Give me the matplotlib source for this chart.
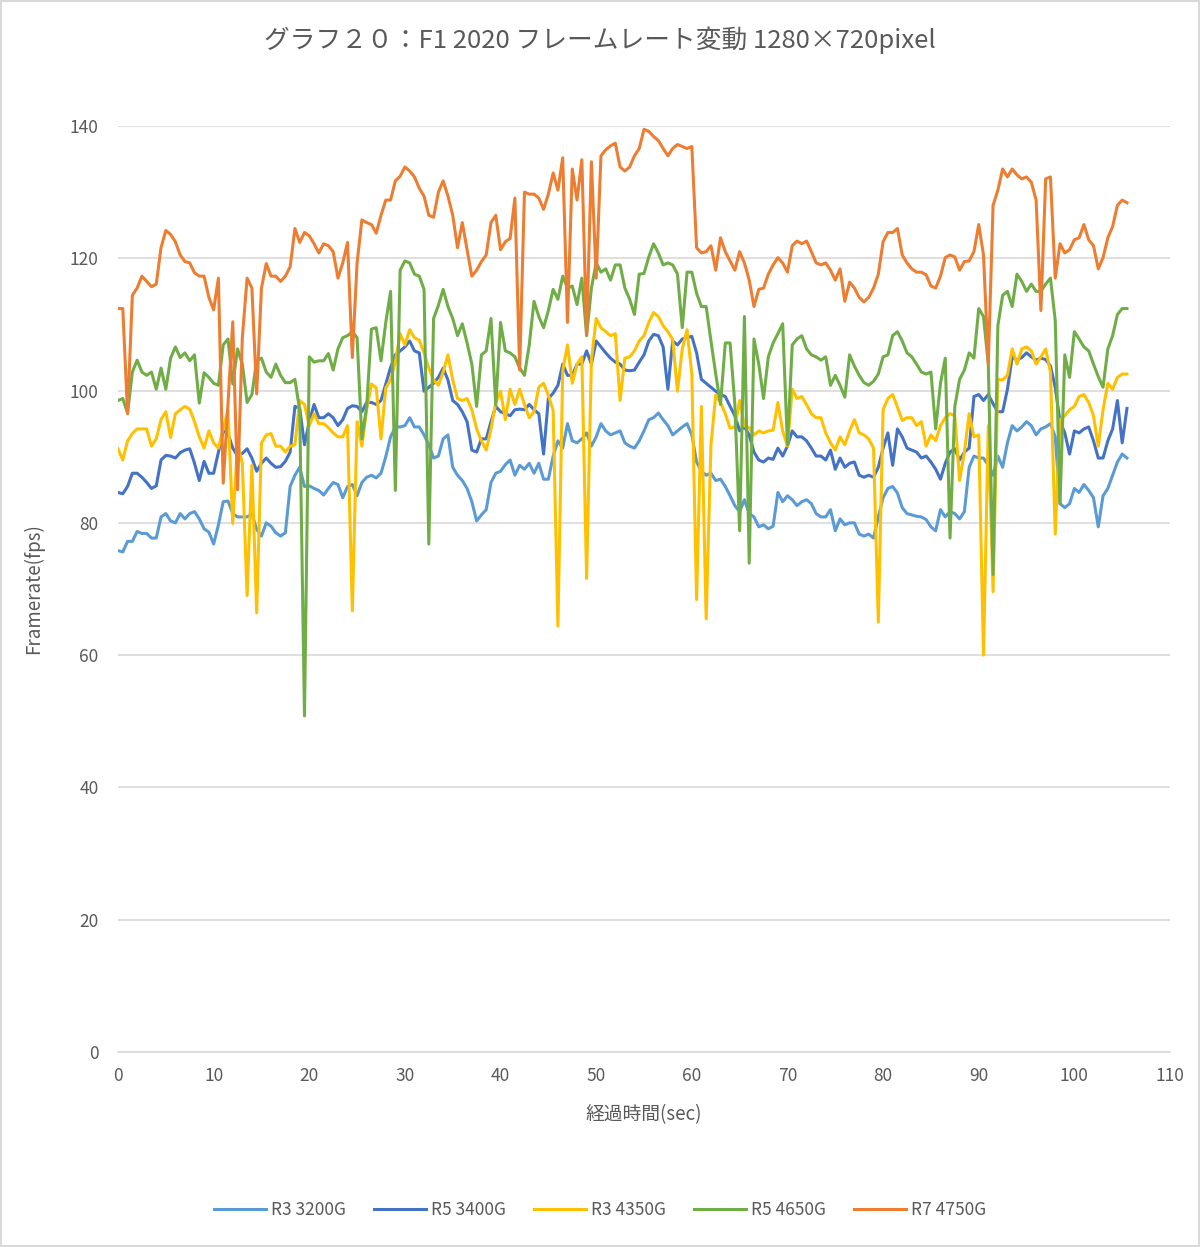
import numpy as np
import matplotlib
matplotlib.use("Agg")
import matplotlib.pyplot as plt
from matplotlib.patches import Rectangle

plt.rcParams['font.family'] = ['Noto Sans CJK JP', 'DejaVu Sans']

# framerate samples, one every 0.5 sec (rows of 10 = 5 sec)
r3_3200g = [
    75.8, 75.6, 77.2, 77.2, 78.7, 78.4, 78.4, 77.7, 77.7, 80.9,
    81.4, 80.3, 80.0, 81.4, 80.6, 81.4, 81.7, 80.6, 79.1, 78.6,
    76.8, 79.7, 83.2, 83.3, 81.4, 80.9, 80.9, 80.9, 81.4, 79.0,
    78.0, 80.0, 79.5, 78.5, 78.0, 78.5, 85.5, 87.2, 88.4, 85.5,
    85.6, 85.2, 84.9, 84.2, 85.2, 86.1, 85.8, 83.8, 85.5, 85.8,
    84.1, 86.1, 86.9, 87.2, 86.8, 87.5, 90.0, 93.0, 94.5, 94.5,
    94.7, 95.9, 94.5, 94.5, 93.3, 91.8, 89.8, 90.1, 92.7, 93.3,
    88.4, 87.2, 86.4, 85.2, 83.2, 80.3, 81.2, 82.0, 86.1, 87.5,
    87.8, 88.8, 89.5, 87.2, 88.7, 88.1, 89.0, 87.5, 89.0, 86.6,
    86.6, 90.1, 92.4, 91.3, 95.0, 92.4, 92.1, 92.7, 93.6, 91.6,
    93.0, 95.0, 93.9, 93.3, 93.6, 93.9, 92.1, 91.6, 91.3, 92.4,
    93.9, 95.6, 95.9, 96.6, 95.6, 94.7, 93.3, 93.9, 94.5, 95.0,
    93.3, 89.2, 87.8, 87.2, 87.5, 86.4, 86.6, 85.5, 84.1, 82.6,
    81.7, 83.5, 81.4, 80.9, 79.4, 79.7, 79.1, 79.5, 84.6, 83.2,
    84.1, 83.5, 82.6, 83.2, 83.5, 82.9, 81.4, 80.9, 80.9, 82.0,
    78.8, 80.6, 79.7, 80.0, 80.0, 78.3, 78.0, 78.3, 77.7, 80.9,
    83.8, 85.2, 85.5, 84.5, 82.3, 81.4, 81.2, 81.0, 80.9, 80.5,
    79.4, 78.8, 82.0, 80.9, 81.7, 81.4, 80.6, 81.7, 88.4, 90.1,
    89.8, 89.8, 88.7, 87.2, 90.1, 88.4, 92.1, 94.7, 93.9, 94.5,
    95.3, 94.7, 93.3, 94.2, 94.5, 95.0, 93.0, 82.9, 82.3, 82.9,
    85.2, 84.6, 85.8, 84.9, 83.8, 79.4, 84.1, 85.2, 87.2, 89.2,
    90.4, 89.8,
]

r5_3400g = [
    84.6, 84.4, 85.5, 87.5, 87.5, 86.9, 86.1, 85.2, 85.6, 89.5,
    90.2, 90.1, 89.8, 90.6, 91.0, 91.2, 89.0, 86.4, 89.3, 87.5,
    87.5, 90.7, 93.9, 93.5, 91.3, 90.1, 90.5, 91.2, 89.8, 87.8,
    89.0, 89.8, 89.0, 88.4, 88.5, 89.3, 90.7, 97.6, 97.3, 91.8,
    95.3, 97.9, 95.9, 95.9, 96.5, 95.9, 94.7, 95.6, 97.3, 97.7,
    97.6, 96.8, 98.2, 98.2, 97.9, 98.5, 101.0, 103.5, 105.4, 106.0,
    106.6, 107.5, 106.0, 105.7, 99.9, 100.5, 101.1, 102.0, 103.4, 101.6,
    98.5, 97.9, 96.8, 95.3, 91.0, 90.7, 92.7, 92.7, 95.3, 97.6,
    96.8, 96.5, 96.2, 97.1, 97.2, 97.1, 97.9, 97.1, 96.5, 90.4,
    98.8, 99.6, 100.8, 104.0, 102.3, 102.3, 104.0, 104.0, 106.0, 104.0,
    107.5, 106.6, 105.7, 104.9, 104.3, 104.0, 103.1, 103.0, 103.1, 104.3,
    105.4, 107.5, 108.5, 108.3, 106.6, 100.2, 107.5, 106.9, 107.8, 108.0,
    108.2, 105.7, 101.7, 101.1, 100.5, 99.9, 99.4, 99.1, 97.6, 96.2,
    93.9, 94.5, 93.3, 90.7, 89.5, 89.2, 89.8, 89.6, 91.3, 90.1,
    91.6, 93.9, 93.0, 93.0, 92.4, 91.3, 90.1, 90.1, 89.5, 91.0,
    88.1, 89.8, 88.4, 89.0, 89.2, 87.2, 86.9, 87.2, 86.9, 88.4,
    91.3, 93.6, 88.7, 94.2, 93.0, 91.3, 91.0, 90.7, 89.8, 90.1,
    89.2, 88.1, 86.6, 89.0, 90.7, 91.2, 89.5, 90.7, 91.3, 99.1,
    99.4, 98.5, 99.4, 98.0, 96.8, 96.8, 100.2, 105.1, 104.6, 105.0,
    105.7, 105.1, 104.6, 104.9, 104.7, 103.7, 100.5, 95.3, 93.6, 90.4,
    93.9, 93.6, 94.2, 94.5, 92.4, 89.8, 89.8, 92.4, 94.2, 98.5,
    92.1, 97.3,
]

r3_4350g = [
    91.2, 89.5, 92.4, 93.5, 94.2, 94.2, 94.2, 91.6, 92.7, 95.6,
    96.8, 92.9, 96.5, 97.1, 97.6, 97.2, 95.3, 93.0, 91.3, 93.9,
    92.1, 91.3, 94.2, 97.1, 79.9, 92.0, 89.0, 69.0, 88.7, 66.4,
    92.1, 93.3, 93.5, 91.6, 91.6, 90.7, 91.6, 91.8, 98.5, 97.9,
    94.7, 96.5, 95.0, 95.0, 94.4, 93.6, 93.0, 93.0, 94.7, 66.7,
    95.3, 91.6, 97.1, 101.0, 100.4, 92.7, 100.4, 101.6, 104.3, 108.6,
    106.9, 109.2, 108.0, 107.6, 105.7, 103.4, 101.6, 100.8, 102.8, 105.4,
    101.6, 98.8, 98.5, 98.8, 97.1, 94.2, 92.4, 91.0, 94.2, 98.2,
    99.9, 95.6, 100.2, 97.9, 100.2, 97.9, 95.9, 96.8, 100.5, 101.1,
    99.3, 97.0, 64.4, 103.0, 106.9, 101.1, 104.0, 105.1, 71.6, 104.6,
    110.9, 109.5, 108.9, 108.3, 108.6, 98.5, 104.9, 105.1, 106.0, 107.5,
    108.3, 110.3, 111.8, 111.2, 109.8, 108.9, 107.7, 99.9, 106.3, 109.2,
    102.5, 68.4, 97.6, 65.5, 91.8, 99.3, 98.2, 96.5, 94.3, 94.5,
    98.5, 94.7, 94.4, 93.3, 93.9, 93.6, 93.9, 94.0, 98.2, 93.9,
    91.6, 100.2, 98.8, 99.1, 97.9, 96.5, 95.9, 95.9, 93.6, 92.1,
    91.0, 93.0, 91.8, 93.9, 95.6, 93.6, 93.3, 92.7, 91.3, 65.0,
    97.1, 98.8, 99.4, 97.5, 95.5, 95.9, 95.9, 94.7, 95.3, 91.6,
    93.3, 92.4, 94.7, 95.9, 96.5, 96.2, 86.4, 90.7, 96.5, 93.0,
    93.3, 60.0, 94.7, 69.6, 101.7, 101.6, 102.3, 106.3, 104.0, 106.3,
    106.6, 106.0, 104.0, 105.1, 106.3, 102.8, 78.3, 95.6, 96.2, 97.1,
    97.6, 99.1, 99.4, 98.2, 96.2, 91.6, 97.1, 101.1, 100.2, 102.0,
    102.5, 102.5,
]

r5_4650g = [
    98.5, 98.8, 96.6, 102.8, 104.6, 102.8, 102.3, 102.8, 100.2, 103.4,
    100.2, 104.9, 106.6, 105.0, 105.7, 104.5, 105.4, 98.1, 102.7, 102.0,
    101.1, 100.8, 106.9, 107.8, 101.0, 106.3, 104.0, 98.2, 99.4, 104.5,
    104.9, 102.8, 102.0, 104.0, 102.3, 101.2, 101.2, 101.7, 97.0, 50.8,
    105.1, 104.3, 104.5, 104.5, 105.6, 103.1, 106.3, 108.0, 108.3, 108.9,
    108.0, 92.7, 97.6, 109.3, 109.5, 104.5, 110.3, 115.0, 84.9, 118.2,
    119.6, 119.3, 117.6, 117.3, 115.3, 76.8, 110.9, 112.9, 115.3, 112.7,
    110.9, 108.3, 110.1, 107.2, 104.0, 97.6, 105.4, 106.0, 110.9, 97.8,
    110.3, 106.0, 105.7, 105.1, 103.4, 102.3, 106.9, 113.5, 111.2, 109.5,
    112.1, 115.3, 113.8, 117.3, 115.5, 115.8, 113.0, 117.0, 108.3, 115.5,
    119.3, 117.9, 118.4, 116.7, 119.0, 119.0, 115.5, 113.8, 111.5, 117.6,
    117.7, 120.2, 122.2, 120.8, 119.0, 119.3, 119.0, 117.6, 109.5, 117.9,
    117.9, 114.7, 112.7, 112.7, 107.5, 102.5, 97.9, 107.2, 107.2, 97.9,
    78.8, 111.2, 73.9, 107.8, 104.0, 98.8, 105.1, 107.2, 108.6, 110.1,
    91.8, 106.9, 107.8, 108.3, 106.3, 105.4, 105.1, 104.6, 105.1, 100.8,
    102.3, 100.8, 99.0, 105.4, 103.7, 102.3, 101.2, 100.8, 101.4, 102.5,
    105.1, 105.4, 108.3, 108.9, 107.5, 105.7, 105.1, 104.0, 102.8, 102.5,
    102.8, 94.2, 101.1, 104.9, 77.7, 97.6, 101.7, 103.1, 105.7, 104.9,
    112.4, 111.2, 104.0, 72.2, 109.8, 114.4, 115.0, 112.7, 117.6, 116.5,
    115.0, 116.1, 115.0, 115.0, 116.1, 117.0, 110.6, 82.9, 105.4, 102.0,
    108.9, 107.8, 106.6, 106.0, 104.0, 102.1, 100.5, 106.3, 108.3, 111.5,
    112.4, 112.4,
]

r7_4750g = [
    112.4, 112.4, 96.5, 114.4, 115.5, 117.3, 116.5, 115.7, 116.1, 121.6,
    124.2, 123.6, 122.5, 120.5, 119.5, 119.3, 117.8, 117.3, 117.3, 114.1,
    112.2, 117.0, 86.0, 98.0, 110.4, 85.0, 108.0, 117.0, 115.5, 99.5,
    115.5, 119.2, 117.3, 117.3, 116.5, 117.3, 118.7, 124.5, 122.4, 123.9,
    123.4, 122.2, 120.8, 122.2, 121.9, 121.0, 117.0, 119.3, 122.4, 105.0,
    119.3, 125.8, 125.4, 125.1, 123.8, 126.5, 128.8, 128.8, 131.7, 132.4,
    133.8, 133.2, 132.3, 130.6, 129.4, 126.5, 126.2, 130.0, 131.7, 129.4,
    126.5, 121.6, 125.4, 121.3, 117.3, 118.2, 119.5, 120.5, 125.4, 126.5,
    121.3, 122.5, 123.0, 129.1, 103.1, 130.0, 129.7, 129.7, 129.1, 127.4,
    129.7, 132.9, 130.3, 135.2, 110.3, 133.5, 128.8, 134.9, 108.6, 134.6,
    117.0, 135.5, 136.4, 137.0, 137.4, 133.8, 133.2, 133.8, 135.5, 136.6,
    139.5, 139.2, 138.4, 137.8, 136.6, 135.5, 136.6, 137.2, 136.9, 136.6,
    136.9, 121.6, 120.8, 121.0, 121.9, 118.2, 123.1, 121.0, 119.6, 118.2,
    121.0, 119.3, 116.7, 112.7, 115.3, 115.5, 117.6, 119.0, 120.1, 119.3,
    117.9, 121.9, 122.6, 122.2, 122.6, 121.0, 119.3, 119.0, 119.3, 118.2,
    116.7, 118.4, 113.5, 116.4, 115.5, 114.1, 113.4, 114.1, 115.5, 117.6,
    122.5, 123.9, 123.9, 124.5, 120.5, 119.3, 118.4, 117.9, 117.9, 117.5,
    115.8, 115.5, 117.3, 120.1, 120.5, 120.2, 118.2, 119.5, 119.6, 121.0,
    125.1, 120.5, 104.0, 128.0, 130.3, 133.5, 132.3, 133.5, 132.6, 132.0,
    132.3, 131.5, 128.8, 112.1, 132.0, 132.3, 117.0, 122.2, 120.8, 121.3,
    122.8, 123.1, 125.1, 122.8, 121.9, 118.4, 120.1, 123.1, 124.8, 128.0,
    128.8, 128.4,
]

labels = ['R3 3200G', 'R5 3400G', 'R3 4350G', 'R5 4650G', 'R7 4750G']
series = [r3_3200g, r5_3400g, r3_4350g, r5_4650g, r7_4750g]
colors = ['#5B9BD5', '#4472C4', '#FFC000', '#70AD47', '#ED7D31']
sec = np.arange(len(r7_4750g)) * 0.5

text_col = '#595959'
grid_col = '#D9D9D9'

fig = plt.figure(figsize=(12, 12.47), dpi=100)
ax = fig.add_axes([118 / 1200, 1 - 1052 / 1247, 1052 / 1200, 926 / 1247])

for vals, lab, c in zip(series, labels, colors):
    ax.plot(sec[:len(vals)], vals, color=c, lw=2.2, label=lab)

ax.set_xlim(0, 110)
ax.set_ylim(0, 140)
ax.set_xticks(np.arange(0, 111, 10))
ax.set_yticks(np.arange(0, 141, 20))
ax.grid(axis='y', color=grid_col, lw=1.2)
ax.set_axisbelow(True)
for s in ['top', 'right', 'left']:
    ax.spines[s].set_visible(False)
ax.spines['bottom'].set_color(grid_col)
ax.spines['bottom'].set_linewidth(1.2)
ax.tick_params(axis='both', length=0, labelsize=12.5, labelcolor=text_col)
ax.tick_params(axis='y', pad=14)
ax.tick_params(axis='x', pad=11)

ax.set_ylabel('Framerate(fps)', fontsize=13.5, color=text_col)
ax.yaxis.set_label_coords(-0.07, 0.5)
ax.set_xlabel('経過時間(sec)', fontsize=13.5, color=text_col)
ax.xaxis.set_label_coords(0.5, -0.056)

fig.text(0.5, 1 - 40 / 1247, 'グラフ２０：F1 2020 フレームレート変動 1280×720pixel',
         ha='center', va='center', fontsize=18.5, color=text_col)

fig.legend(loc='center', bbox_to_anchor=(0.5, 1 - 1210 / 1247), ncol=5,
           frameon=False, fontsize=12.5, labelcolor=text_col,
           handlelength=3.0, columnspacing=1.6, handletextpad=0.3)

fig.patches.append(Rectangle((0.001, 0.001), 0.998, 0.998, transform=fig.transFigure,
                             fill=False, edgecolor=grid_col, lw=1.5))

fig.savefig('out.png', dpi=100)
